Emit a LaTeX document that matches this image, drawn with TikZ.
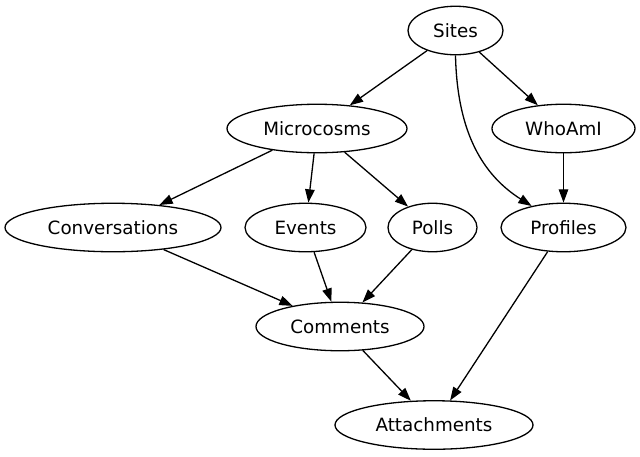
\documentclass[tikz,border=0pt]{standalone}
\usepackage{fontspec}
\setmainfont{DejaVu Sans}
\usetikzlibrary{shapes.geometric,arrows.meta}
\begin{document}
\begin{tikzpicture}[x=1pt,y=-1pt,
  nd/.style={draw,ellipse,line width=1.3pt,inner sep=0pt,minimum height=48.5pt,font=\fontsize{18.3}{20}\selectfont},
  edge/.style={draw,line width=1.3pt,-{Triangle[length=13.3pt,width=9.5pt]}}]
\useasboundingbox (0,0) rectangle (640,456);
\node[nd,minimum width=95pt]  (sites) at (455.5,30.5) {Sites};
\node[nd,minimum width=180pt] (micro) at (317,128.5) {Microcosms};
\node[nd,minimum width=143pt] (who) at (563.5,128.5) {WhoAmI};
\node[nd,minimum width=216pt] (conv) at (113,227.5) {Conversations};
\node[nd,minimum width=121pt] (events) at (305.5,227.5) {Events};
\node[nd,minimum width=89pt]  (polls) at (432.5,227.5) {Polls};
\node[nd,minimum width=125pt] (prof) at (563.5,227.5) {Profiles};
\node[nd,minimum width=168pt] (comm) at (340,326.5) {Comments};
\node[nd,minimum width=198pt] (att) at (434,425) {Attachments};
\draw[edge] (sites) -- (micro);
\draw[edge] (sites) -- (who);
\draw[edge] (sites.south) .. controls (457,125) and (478,172) .. (prof.146);
\draw[edge] (who) -- (prof);
\draw[edge] (micro) -- (conv);
\draw[edge] (micro) -- (events);
\draw[edge] (micro) -- (polls);
\draw[edge] (conv) -- (comm);
\draw[edge] (events) -- (comm);
\draw[edge] (polls) -- (comm);
\draw[edge] (comm) -- (att);
\draw[edge] (prof) -- (att);
\end{tikzpicture}
\end{document}
